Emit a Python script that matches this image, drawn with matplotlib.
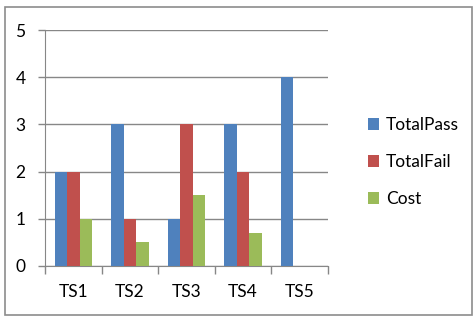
import numpy as np
import matplotlib.pyplot as plt
from matplotlib.patches import Rectangle

categories = ["TS1", "TS2", "TS3", "TS4", "TS5"]
total_pass = [2, 3, 1, 3, 4]
total_fail = [2, 1, 3, 2, 0]
cost = [1, 0.5, 1.5, 0.7, 0]
series = [("TotalPass", total_pass, "#4F81BD"),
          ("TotalFail", total_fail, "#C0504D"),
          ("Cost", cost, "#9BBB59")]

plt.rcParams["font.family"] = ["Lato", "DejaVu Sans"]

W, H = 477, 318
fig = plt.figure(figsize=(W / 100, H / 100), dpi=100)
ax = fig.add_axes([45 / W, 1 - 266 / H, (328 - 45) / W, (266 - 30) / H])

x = np.arange(len(categories))
bw = 0.22
for i, (name, vals, col) in enumerate(series):
    ax.bar(x + (i - 1) * bw, vals, bw, color=col, label=name, zorder=3)

ax.set_xlim(-0.5, len(categories) - 0.5)
ax.set_ylim(0, 5)
ax.set_yticks(range(6))
ax.yaxis.grid(True, color="#878787", linewidth=1, zorder=0)
ax.set_xticks(x)
ax.set_xticklabels(categories)
ax.set_xticks(np.arange(-0.5, len(categories)), minor=True)
ax.tick_params(axis="x", which="major", length=0, pad=13, labelsize=12.5)
ax.tick_params(axis="x", which="minor", length=6, color="#878787", width=1)
ax.tick_params(axis="y", length=5, color="#878787", width=1, pad=9, labelsize=12.5)
for s in ["top", "right"]:
    ax.spines[s].set_visible(False)
for s in ["left", "bottom"]:
    ax.spines[s].set_color("#878787")

ax.legend(loc="center left", bbox_to_anchor=(352 / W, 1 - 162 / H),
          bbox_transform=fig.transFigure, frameon=False, fontsize=12.5,
          handlelength=0.65, handleheight=0.65, handletextpad=0.4, labelspacing=1.2)

fig.add_artist(Rectangle((5 / W, 3 / H), 467 / W, 308 / H, transform=fig.transFigure,
                         fill=False, edgecolor="#8c8c8c", linewidth=1.2))

fig.savefig("out.png", dpi=100)
